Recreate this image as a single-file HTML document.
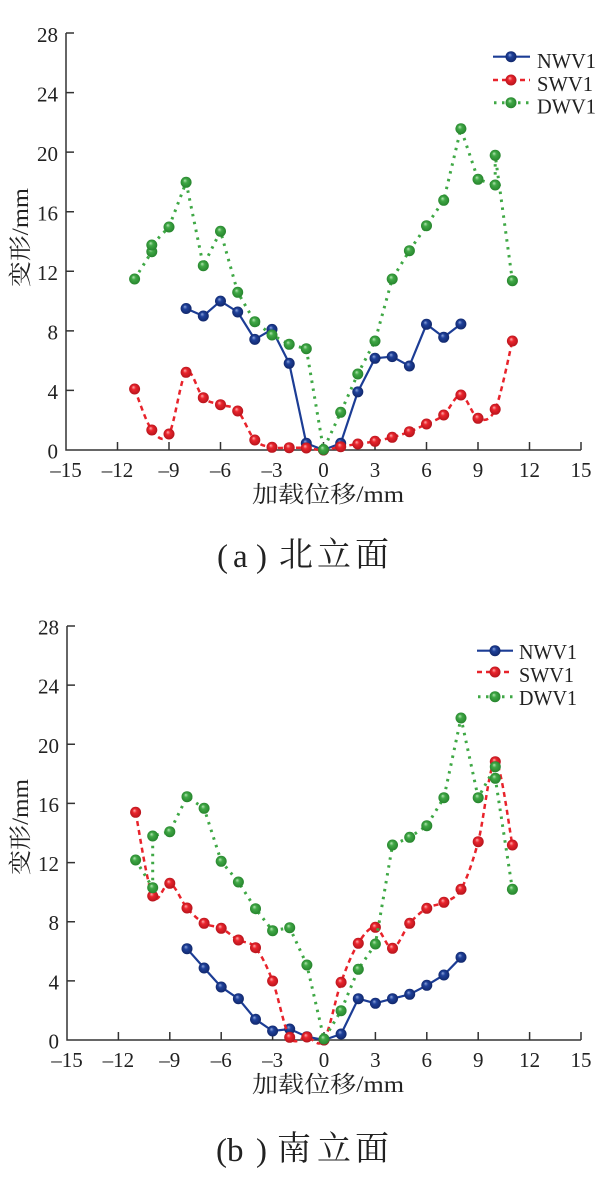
<!DOCTYPE html>
<html>
<head>
<meta charset="utf-8">
<style>
html,body{margin:0;padding:0;background:#fff;}
svg{display:block;}
.tk{font-family:"Liberation Serif",serif;font-size:21px;fill:#222;}
.lg{font-family:"Liberation Serif",serif;font-size:21px;fill:#222;}
.ax{font-family:"Liberation Serif","Noto Serif CJK SC","Noto Sans CJK SC",serif;font-size:23px;fill:#222;}
.cap{font-family:"Liberation Serif",serif;font-size:33px;fill:#222;}
.capc{font-family:"Noto Serif CJK SC","Noto Sans CJK SC",serif;font-size:34px;fill:#222;}
</style>
</head>
<body>
<svg id="chart" width="606" height="1186" viewBox="0 0 606 1186" xmlns="http://www.w3.org/2000/svg">
<defs>
<radialGradient id="gb" cx="0.5" cy="0.5" r="0.55" fx="0.38" fy="0.32">
<stop offset="0" stop-color="#8fa6dc"/><stop offset="0.35" stop-color="#1f419a"/><stop offset="1" stop-color="#0f2466"/>
</radialGradient>
<radialGradient id="gr" cx="0.5" cy="0.5" r="0.55" fx="0.38" fy="0.32">
<stop offset="0" stop-color="#ffb0b0"/><stop offset="0.35" stop-color="#ea252d"/><stop offset="1" stop-color="#b0121a"/>
</radialGradient>
<radialGradient id="gg" cx="0.5" cy="0.5" r="0.55" fx="0.38" fy="0.32">
<stop offset="0" stop-color="#b6e6b4"/><stop offset="0.35" stop-color="#40a846"/><stop offset="1" stop-color="#23802a"/>
</radialGradient>
<marker id="mb" markerWidth="12" markerHeight="12" refX="6" refY="6" markerUnits="userSpaceOnUse"><circle cx="6" cy="6" r="5.5" fill="url(#gb)"/></marker>
<marker id="mr" markerWidth="12" markerHeight="12" refX="6" refY="6" markerUnits="userSpaceOnUse"><circle cx="6" cy="6" r="5.5" fill="url(#gr)"/></marker>
<marker id="mg" markerWidth="12" markerHeight="12" refX="6" refY="6" markerUnits="userSpaceOnUse"><circle cx="6" cy="6" r="5.5" fill="url(#gg)"/></marker>
</defs>

<!-- ================= TOP CHART ================= -->
<g stroke="#333" stroke-width="1.5" fill="none">
<path d="M66 33 V450 H581"/>
<path d="M66 33 H74 M66 92.6 H74 M66 152.1 H74 M66 211.7 H74 M66 271.3 H74 M66 330.9 H74 M66 390.4 H74"/>
<path d="M117.5 450 V442 M169 450 V442 M220.5 450 V442 M272 450 V442 M323.5 450 V442 M375 450 V442 M426.5 450 V442 M478 450 V442 M529.5 450 V442 M581 450 V442"/>
</g>
<g class="tk" text-anchor="end">
<text x="58" y="42">28</text>
<text x="58" y="101.5">24</text>
<text x="58" y="161">20</text>
<text x="58" y="220.5">16</text>
<text x="58" y="280">12</text>
<text x="58" y="339.5">8</text>
<text x="58" y="399">4</text>
<text x="58" y="458.5">0</text>
</g>
<g class="tk" text-anchor="middle">
<text x="66" y="477">–15</text>
<text x="117.5" y="477">–12</text>
<text x="169" y="477">–9</text>
<text x="220.5" y="477">–6</text>
<text x="272" y="477">–3</text>
<text x="323.5" y="477">0</text>
<text x="375" y="477">3</text>
<text x="426.5" y="477">6</text>
<text x="478" y="477">9</text>
<text x="529.5" y="477">12</text>
<text x="581" y="477">15</text>
</g>
<text class="ax" x="252" y="502" textLength="152" lengthAdjust="spacingAndGlyphs">加载位移/mm</text>
<text class="ax" transform="translate(28,287) rotate(-90)" x="0" y="0" textLength="99" lengthAdjust="spacingAndGlyphs">变形/mm</text>

<polyline fill="none" stroke="#1c3d95" stroke-width="2.2" marker-start="url(#mb)" marker-mid="url(#mb)" marker-end="url(#mb)"
points="186.1,308.5 203.3,316 220.5,301.1 237.7,312 254.8,339.4 272,329.4 289.2,363.3 306.3,443.3 323.5,450 340.7,443.3 357.8,391.9 375,358.3 392.2,356.6 409.4,366 426.5,324.3 443.7,337.3 460.9,324"/>
<polyline class="smooth" fill="none" stroke="#e8232b" stroke-width="2.5" stroke-dasharray="5 4" marker-start="url(#mr)" marker-mid="url(#mr)" marker-end="url(#mr)"
points="134.6,389 151.8,430 169,434 186.1,372.3 203.3,397.7 220.5,404.7 237.7,411 254.8,440 272,447.3 289.2,447.7 306.3,448 323.5,450 340.7,446.7 357.8,444 375,441.3 392.2,437.3 409.4,431.7 426.5,424 443.7,415 460.9,395 478,418.3 495.2,409.3 512.4,341"/>
<polyline fill="none" stroke="#3fa845" stroke-width="3" stroke-dasharray="2.5 5.5" marker-start="url(#mg)" marker-mid="url(#mg)" marker-end="url(#mg)"
points="134.6,279 151.8,251.7 151.8,245 169,227 186.1,182.3 203.3,265.7 220.5,231.3 237.7,292.3 254.8,321.7 272,335 289.2,344.3 306.3,348.7 323.5,449.5 340.7,412.3 357.8,374 375,341 392.2,279 409.4,250.7 426.5,225.7 443.7,200.3 460.9,128.7 478,179.3 495.2,185 495.2,155.3 512.4,280.7"/>

<!-- legend top -->
<line x1="493" y1="56.7" x2="530" y2="56.7" stroke="#1c3d95" stroke-width="2.2"/>
<circle cx="511" cy="56.7" r="5.5" fill="url(#gb)"/>
<line x1="493" y1="80" x2="530" y2="80" stroke="#e8232b" stroke-width="2.5" stroke-dasharray="5 4"/>
<circle cx="511" cy="80" r="5.5" fill="url(#gr)"/>
<line x1="493" y1="102.7" x2="530" y2="102.7" stroke="#3fa845" stroke-width="3" stroke-dasharray="2.5 5.5" stroke-dashoffset="-1"/>
<circle cx="511" cy="102.7" r="5.5" fill="url(#gg)"/>
<text class="lg" x="537" y="68" textLength="59" lengthAdjust="spacingAndGlyphs">NWV1</text>
<text class="lg" x="537" y="91" textLength="56" lengthAdjust="spacingAndGlyphs">SWV1</text>
<text class="lg" x="537" y="113.5" textLength="59" lengthAdjust="spacingAndGlyphs">DWV1</text>

<!-- caption a -->
<text class="cap" x="217" y="567">(</text>
<text class="cap" x="233" y="567">a</text>
<text class="cap" x="256" y="567">)</text>
<text class="capc" x="279" y="566">北</text>
<text class="capc" x="317" y="566">立</text>
<text class="capc" x="355" y="566">面</text>

<!-- ================= BOTTOM CHART ================= -->
<g stroke="#333" stroke-width="1.5" fill="none">
<path d="M67 626 V1040 H581"/>
<path d="M67 626 H75 M67 685.1 H75 M67 744.3 H75 M67 803.4 H75 M67 862.6 H75 M67 921.7 H75 M67 980.9 H75"/>
<path d="M118.4 1040 V1032 M169.8 1040 V1032 M221.2 1040 V1032 M272.6 1040 V1032 M324 1040 V1032 M375.4 1040 V1032 M426.8 1040 V1032 M478.2 1040 V1032 M529.6 1040 V1032 M581 1040 V1032"/>
</g>
<g class="tk" text-anchor="end">
<text x="59" y="634.5">28</text>
<text x="59" y="693.6">24</text>
<text x="59" y="752.8">20</text>
<text x="59" y="811.9">16</text>
<text x="59" y="871.1">12</text>
<text x="59" y="930.2">8</text>
<text x="59" y="989.4">4</text>
<text x="59" y="1048.5">0</text>
</g>
<g class="tk" text-anchor="middle">
<text x="67" y="1067">–15</text>
<text x="118.4" y="1067">–12</text>
<text x="169.8" y="1067">–9</text>
<text x="221.2" y="1067">–6</text>
<text x="272.6" y="1067">–3</text>
<text x="324" y="1067">0</text>
<text x="375.4" y="1067">3</text>
<text x="426.8" y="1067">6</text>
<text x="478.2" y="1067">9</text>
<text x="529.6" y="1067">12</text>
<text x="581" y="1067">15</text>
</g>
<text class="ax" x="252" y="1092" textLength="152" lengthAdjust="spacingAndGlyphs">加载位移/mm</text>
<text class="ax" transform="translate(28,875) rotate(-90)" x="0" y="0" textLength="96" lengthAdjust="spacingAndGlyphs">变形/mm</text>

<polyline fill="none" stroke="#1c3d95" stroke-width="2.2" marker-start="url(#mb)" marker-mid="url(#mb)" marker-end="url(#mb)"
points="187,948.7 204.1,968 221.2,987 238.4,998.7 255.5,1019.3 272.6,1031 289.7,1029 306.9,1036.7 324,1040 341.1,1034 358.3,998.7 375.4,1003.3 392.5,998.7 409.7,994.3 426.8,985.3 443.9,975 461,957.3"/>
<polyline class="smooth" fill="none" stroke="#e8232b" stroke-width="2.5" stroke-dasharray="5 4" marker-start="url(#mr)" marker-mid="url(#mr)" marker-end="url(#mr)"
points="135.6,812.3 152.7,896 169.8,883.3 187,908 204.1,923.3 221.2,928.3 238.4,940 255.5,947.7 272.6,981 289.7,1037.3 306.9,1037 324,1040 341.1,982.3 358.3,943.3 375.4,927.3 392.5,948.3 409.7,923.3 426.8,908.3 443.9,902.3 461,889.3 478.2,841.7 495.3,761.7 512.4,845"/>
<polyline fill="none" stroke="#3fa845" stroke-width="3" stroke-dasharray="2.5 5.5" marker-start="url(#mg)" marker-mid="url(#mg)" marker-end="url(#mg)"
points="135.6,860 152.7,887.7 152.7,836 169.8,831.7 187,796.7 204.1,808.3 221.2,861.3 238.4,882 255.5,908.7 272.6,930.7 289.7,927.7 306.9,965 324,1039 341.1,1010.7 358.3,969.3 375.4,944 392.5,845 409.7,837.3 426.8,825.7 443.9,797.7 461,718 478.2,797.7 495.3,766.7 495.3,778.3 512.4,889.3"/>

<!-- legend bottom -->
<line x1="477" y1="650.7" x2="513" y2="650.7" stroke="#1c3d95" stroke-width="2.2"/>
<circle cx="495" cy="650.7" r="5.5" fill="url(#gb)"/>
<line x1="477" y1="672" x2="513" y2="672" stroke="#e8232b" stroke-width="2.5" stroke-dasharray="5 4"/>
<circle cx="495" cy="672" r="5.5" fill="url(#gr)"/>
<line x1="477" y1="696.7" x2="513" y2="696.7" stroke="#3fa845" stroke-width="3" stroke-dasharray="2.5 5.5" stroke-dashoffset="-1"/>
<circle cx="495" cy="696.7" r="5.5" fill="url(#gg)"/>
<text class="lg" x="519" y="659" textLength="58" lengthAdjust="spacingAndGlyphs">NWV1</text>
<text class="lg" x="519" y="682" textLength="55" lengthAdjust="spacingAndGlyphs">SWV1</text>
<text class="lg" x="519" y="705" textLength="58" lengthAdjust="spacingAndGlyphs">DWV1</text>

<!-- caption b -->
<text class="cap" x="216" y="1161">(</text>
<text class="cap" x="227" y="1161">b</text>
<text class="cap" x="256" y="1161">)</text>
<text class="capc" x="277" y="1160">南</text>
<text class="capc" x="317" y="1160">立</text>
<text class="capc" x="355" y="1160">面</text>
</svg>
<script>
(function(){
  try{
    var NS="http://www.w3.org/2000/svg";
    var lines=document.querySelectorAll("polyline.smooth");
    for(var i=0;i<lines.length;i++){
      var pl=lines[i];
      var raw=pl.getAttribute("points").trim().split(/\s+/);
      var p=raw.map(function(s){var a=s.split(",");return [parseFloat(a[0]),parseFloat(a[1])];});
      var d="M"+p[0][0]+" "+p[0][1];
      var t=0.5;
      for(var k=0;k<p.length-1;k++){
        var p0=p[k>0?k-1:k],p1=p[k],p2=p[k+1],p3=p[k+2<p.length?k+2:k+1];
        var c1x=p1[0]+(p2[0]-p0[0])*t/3, c1y=p1[1]+(p2[1]-p0[1])*t/3;
        var c2x=p2[0]-(p3[0]-p1[0])*t/3, c2y=p2[1]-(p3[1]-p1[1])*t/3;
        d+=" C"+c1x.toFixed(2)+" "+c1y.toFixed(2)+" "+c2x.toFixed(2)+" "+c2y.toFixed(2)+" "+p2[0]+" "+p2[1];
      }
      var path=document.createElementNS(NS,"path");
      var attrs=["fill","stroke","stroke-width","stroke-dasharray","marker-start","marker-mid","marker-end"];
      for(var j=0;j<attrs.length;j++){path.setAttribute(attrs[j],pl.getAttribute(attrs[j]));}
      path.setAttribute("d",d);
      pl.parentNode.replaceChild(path,pl);
    }
  }catch(e){}
})();
</script>
</body>
</html>
